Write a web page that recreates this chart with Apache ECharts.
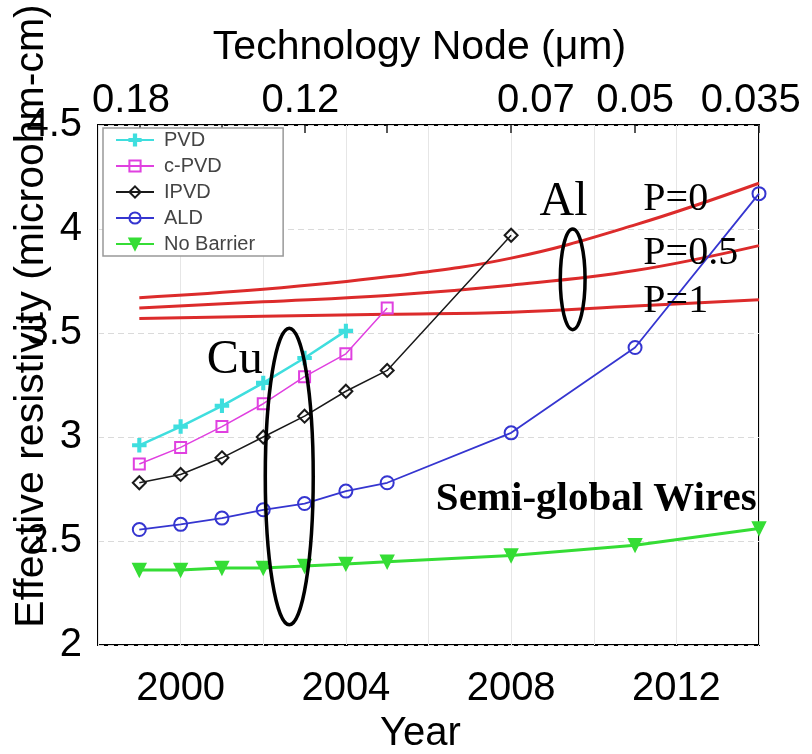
<!DOCTYPE html>
<html>
<head>
<meta charset="utf-8">
<script src="https://cdn.jsdelivr.net/npm/echarts@6/dist/echarts.min.js"></script>
<style>
  html, body { margin: 0; padding: 0; background: #fff; }
  #chart { width: 812px; height: 754px; }
</style>
</head>
<body>
<div id="chart"></div>
<script>
// Effective resistivity of Cu semi-global wires by barrier process, vs Al (P = specularity)

// Years
const cuYears = [1999, 2000, 2001, 2002, 2003, 2004, 2005];
const pvdYears = [1999, 2000, 2001, 2002, 2003, 2004];
const ipvdYears = [1999, 2000, 2001, 2002, 2003, 2004, 2005, 2008];
const fullYears = [1999, 2000, 2001, 2002, 2003, 2004, 2005, 2008, 2011, 2014];
const alYears = [1999, 2002, 2005, 2008, 2011, 2014];

// Cu resistivity (microohm-cm)
const pvd = [2.96, 3.05, 3.15, 3.26, 3.38, 3.51];
const cPvd = [2.87, 2.95, 3.05, 3.16, 3.29, 3.40, 3.62];
const ipvd = [2.78, 2.82, 2.90, 3.00, 3.10, 3.22, 3.32, 3.97];
const ald = [2.555, 2.58, 2.61, 2.65, 2.68, 2.74, 2.78, 3.02, 3.43, 4.17];
const noBarrier = [2.36, 2.36, 2.37, 2.37, 2.38, 2.39, 2.40, 2.43, 2.48, 2.56];

// Al resistivity for three specularity values
const alP0 = [3.67, 3.71, 3.77, 3.86, 4.02, 4.22];
const alP05 = [3.62, 3.65, 3.68, 3.73, 3.80, 3.92];
const alP1 = [3.57, 3.58, 3.59, 3.60, 3.63, 3.66];

// Technology node axis
const nodeLabels = ['0.18', '0.12', '0.07', '0.05', '0.035'];
const nodeLabelYears = [1998.8, 2002.9, 2008.6, 2011.0, 2013.8];
const nodeTickYears = [1999, 2001, 2003, 2005, 2008, 2011, 2014];

// Annotations, in data coordinates
const annotations = [
  { text: 'Cu', x: 2001.31, y: 3.37, font: '48px "Liberation Serif"' },
  { text: 'Al', x: 2009.27, y: 4.13, font: '48px "Liberation Serif"' },
  { text: 'P=0', x: 2011.2, y: 4.14, font: '40px "Liberation Serif"', align: 'left' },
  { text: 'P=0.5', x: 2011.2, y: 3.88, font: '40px "Liberation Serif"', align: 'left' },
  { text: 'P=1', x: 2011.2, y: 3.65, font: '40px "Liberation Serif"', align: 'left' },
  { text: 'Semi-global Wires', x: 2010.06, y: 2.70, font: 'bold 41px "Liberation Serif"' }
];
const ellipses = [
  { x: 2002.63, y: 2.81, rx: 0.58, ry: 0.713 },
  { x: 2009.49, y: 3.758, rx: 0.30, ry: 0.242 }
];

const pair = (xs, ys) => xs.map((x, i) => [x, ys[i]]);
const FONT = '"Liberation Sans", Arial, sans-serif';

const plusPath = 'path://M4,0h2v4h4v2h-4v4h-2v-4h-4v-2h4z';

function cuSeries(name, xs, ys, color, symbol, size, lw, extra) {
  return Object.assign({
    name: name,
    type: 'line',
    data: pair(xs, ys),
    symbol: symbol,
    symbolSize: size,
    lineStyle: { color: color, width: lw },
    itemStyle: { color: color, borderColor: color, borderWidth: 1.5 },
    z: 5
  }, extra || {});
}

function alSeries(name, ys) {
  return {
    name: name,
    type: 'line',
    data: pair(alYears, ys),
    smooth: 0.4,
    symbol: 'none',
    lineStyle: { color: '#dc2b2b', width: 3 },
    z: 3,
    silent: true
  };
}

const option = {
  backgroundColor: '#fff',
  animation: false,
  textStyle: { fontFamily: FONT },
  grid: {
    left: 98, right: 53, top: 125, bottom: 109,
    outerBoundsMode: 'none', containLabel: false,
    show: true, borderColor: '#000', borderWidth: 2, backgroundColor: 'transparent'
  },
  legend: {
    orient: 'vertical',
    left: 103, top: 128,
    padding: [2, 28, 2, 12],
    itemWidth: 38, itemHeight: 14, itemGap: 6,
    borderColor: '#999', borderWidth: 1.5,
    backgroundColor: '#fff',
    textStyle: { fontSize: 20, color: '#444', fontFamily: FONT, padding: [0, 0, 0, 5] },
    data: ['PVD', 'c-PVD', 'IPVD', 'ALD', 'No Barrier']
  },
  xAxis: [
    {
      type: 'value', position: 'bottom',
      min: 1998, max: 2014, interval: 2,
      axisLine: { show: false },
      axisTick: { show: false },
      splitLine: { show: true, lineStyle: { color: '#e6e6e6', width: 1 } },
      axisLabel: {
        fontSize: 40, color: '#000', margin: 24, fontFamily: FONT,
        formatter: v => (v % 4 === 0 ? String(v) : '')
      },
      name: 'Year', nameLocation: 'middle', nameGap: 67,
      nameTextStyle: { fontSize: 40, color: '#000', fontFamily: FONT, padding: [0, 16, 0, 0] }
    },
    {
      type: 'value', position: 'top',
      min: 1998, max: 2014,
      axisLine: { show: false },
      axisTick: {
        show: true, inside: true, length: 8,
        customValues: nodeTickYears,
        lineStyle: { color: '#222', width: 1.5 }
      },
      splitLine: { show: false },
      axisLabel: {
        fontSize: 40, color: '#000', margin: 4, fontFamily: FONT,
        customValues: nodeLabelYears,
        formatter: v => {
          const i = nodeLabelYears.findIndex(y => Math.abs(y - v) < 1e-6);
          return i >= 0 ? nodeLabels[i] : '';
        }
      },
      name: 'Technology Node (\u03bcm)', nameLocation: 'middle', nameGap: 57,
      nameTextStyle: { fontSize: 41, color: '#000', fontFamily: FONT, padding: [0, 18, 0, 0] }
    }
  ],
  yAxis: {
    type: 'value', min: 2, max: 4.5, interval: 0.5,
    axisLine: { show: false },
    axisTick: { show: false },
    splitLine: { show: true, lineStyle: { color: '#dadada', type: [6, 4], width: 1 } },
    axisLabel: { fontSize: 40, color: '#000', margin: 16, fontFamily: FONT },
    name: 'Effective resistivity (microohm-cm)',
    nameLocation: 'middle', nameRotate: 90, nameGap: 46, nameMoveOverlap: false,
    nameTextStyle: { fontSize: 41, color: '#000', fontFamily: FONT, padding: [0, 0, 0, 138] }
  },
  series: [
    alSeries('Al P=0', alP0),
    alSeries('Al P=0.5', alP05),
    alSeries('Al P=1', alP1),
    cuSeries('PVD', pvdYears, pvd, '#3fdede', plusPath, 13, 2.5),
    cuSeries('c-PVD', cuYears, cPvd, '#e040e0', 'rect', 11, 1.5,
      { itemStyle: { color: 'rgba(255,255,255,0)', borderColor: '#e040e0', borderWidth: 2 } }),
    cuSeries('IPVD', ipvdYears, ipvd, '#1a1a1a', 'diamond', 13, 1.5,
      { itemStyle: { color: 'rgba(255,255,255,0)', borderColor: '#1a1a1a', borderWidth: 2 } }),
    cuSeries('ALD', fullYears, ald, '#3535d0', 'circle', 13, 1.8,
      { itemStyle: { color: 'rgba(255,255,255,0)', borderColor: '#3535d0', borderWidth: 2 } }),
    cuSeries('No Barrier', fullYears, noBarrier, '#35dd35', 'triangle', 13, 3,
      { symbolRotate: 180 })
  ]
};

const chart = echarts.init(document.getElementById('chart'));
chart.setOption(option);

// Annotation overlay placed from data coordinates
const toPx = (x, y) => chart.convertToPixel({ seriesIndex: 0 }, [x, y]);
const graphics = [];
annotations.forEach(a => {
  const p = toPx(a.x, a.y);
  graphics.push({
    type: 'text', x: p[0], y: p[1], z: 20,
    style: {
      text: a.text, font: a.font, fill: '#000',
      align: a.align || 'center', verticalAlign: 'middle',
      textAlign: a.align || 'center', textVerticalAlign: 'middle'
    }
  });
});
ellipses.forEach(e => {
  const c = toPx(e.x, e.y);
  const r = toPx(e.x + e.rx, e.y - e.ry);
  graphics.push({
    type: 'ellipse', z: 20,
    shape: { cx: c[0], cy: c[1], rx: Math.abs(r[0] - c[0]), ry: Math.abs(r[1] - c[1]) },
    style: { fill: 'none', stroke: '#000', lineWidth: 3.5 }
  });
});
chart.setOption({ graphic: graphics });
</script>
</body>
</html>
